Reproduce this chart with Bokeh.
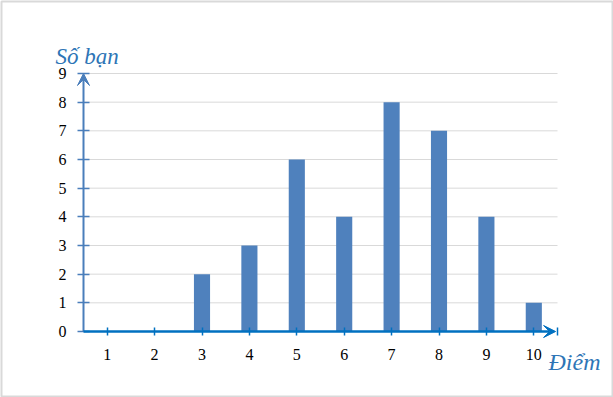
from bokeh.plotting import figure
from bokeh.models import Range1d, LinearAxis, FixedTicker, Arrow, VeeHead, Label
from bokeh.embed import file_html
from bokeh.resources import INLINE

# ---- data ----
scores = [1, 2, 3, 4, 5, 6, 7, 8, 9, 10]
counts = [0, 0, 2, 3, 6, 4, 8, 7, 4, 1]
y_ticks = [0, 1, 2, 3, 4, 5, 6, 7, 8, 9]
x_title = "Điểm"
y_title = "Số bạn"

BAR = "#4f81bd"
YAX = "#4a7ebb"
XAX = "#0070c0"
TITLE = "#2e75b6"
GRID = "#d9d9d9"
FONT = "Liberation Serif"

x_lo, x_hi = min(scores) - 0.5, max(scores) + 0.5
y_lo, y_hi = 0, max(y_ticks)

p = figure(width=613, height=397, output_backend="svg", toolbar_location=None,
           x_range=Range1d(-1.2300, 11.6603), y_range=Range1d(-2.2674, 11.5116),
           x_axis_type=None, y_axis_type=None,
           min_border_left=1, min_border_right=1, min_border_top=1, min_border_bottom=1)
p.outline_line_color = "#d9d9d9"
p.outline_line_width = 2
p.background_fill_color = "white"
p.border_fill_color = "white"

# gridlines
p.segment(x0=[x_lo] * (len(y_ticks) - 1), x1=[x_hi] * (len(y_ticks) - 1),
          y0=y_ticks[1:], y1=y_ticks[1:], line_color=GRID, line_width=1)

# bars
p.vbar(x=scores, top=counts, width=0.34, fill_color=BAR, line_color=None)

# y axis
yaxis = LinearAxis(fixed_location=x_lo, bounds=(y_lo, y_hi),
                   ticker=FixedTicker(ticks=y_ticks),
                   axis_line_color=None,
                   major_tick_line_color=YAX, major_tick_line_width=1.5,
                   major_tick_in=6, major_tick_out=6,
                   minor_tick_line_color=None,
                   major_label_text_font=FONT, major_label_text_font_size="16px",
                   major_label_text_color="#000000", major_label_standoff=11)
p.add_layout(yaxis, "left")

# x axis
xaxis = LinearAxis(fixed_location=y_lo, bounds=(x_lo, x_hi),
                   ticker=FixedTicker(ticks=scores + [x_hi]),
                   major_label_overrides={x_hi: ""},
                   axis_line_color=None,
                   major_tick_line_color=XAX, major_tick_line_width=1.5,
                   major_tick_in=4, major_tick_out=4,
                   minor_tick_line_color=None,
                   major_label_text_font=FONT, major_label_text_font_size="16px",
                   major_label_text_color="#000000", major_label_standoff=13)
p.add_layout(xaxis, "below")

# arrows
p.add_layout(Arrow(x_start=x_lo, y_start=y_lo, x_end=x_lo, y_end=y_hi,
                   line_color=YAX, line_width=2,
                   end=VeeHead(size=12, fill_color=YAX, line_color=YAX, line_width=1)))
p.add_layout(Arrow(x_start=x_lo, y_start=y_lo, x_end=x_hi - 0.04, y_end=y_lo,
                   line_color=XAX, line_width=2.5,
                   end=VeeHead(size=12, fill_color=XAX, line_color=XAX, line_width=1)))

# axis titles
p.add_layout(Label(x=-0.091, y=9.604, text=y_title, text_font=FONT,
                   text_font_style="italic", text_font_size="23px",
                   text_color=TITLE, text_baseline="alphabetic"))
p.add_layout(Label(x=10.31, y=-1.071, text=x_title, text_font=FONT,
                   text_font_style="italic", text_font_size="24px",
                   text_color=TITLE, text_baseline="alphabetic"))

open("out.html", "w").write(file_html(p, INLINE))
